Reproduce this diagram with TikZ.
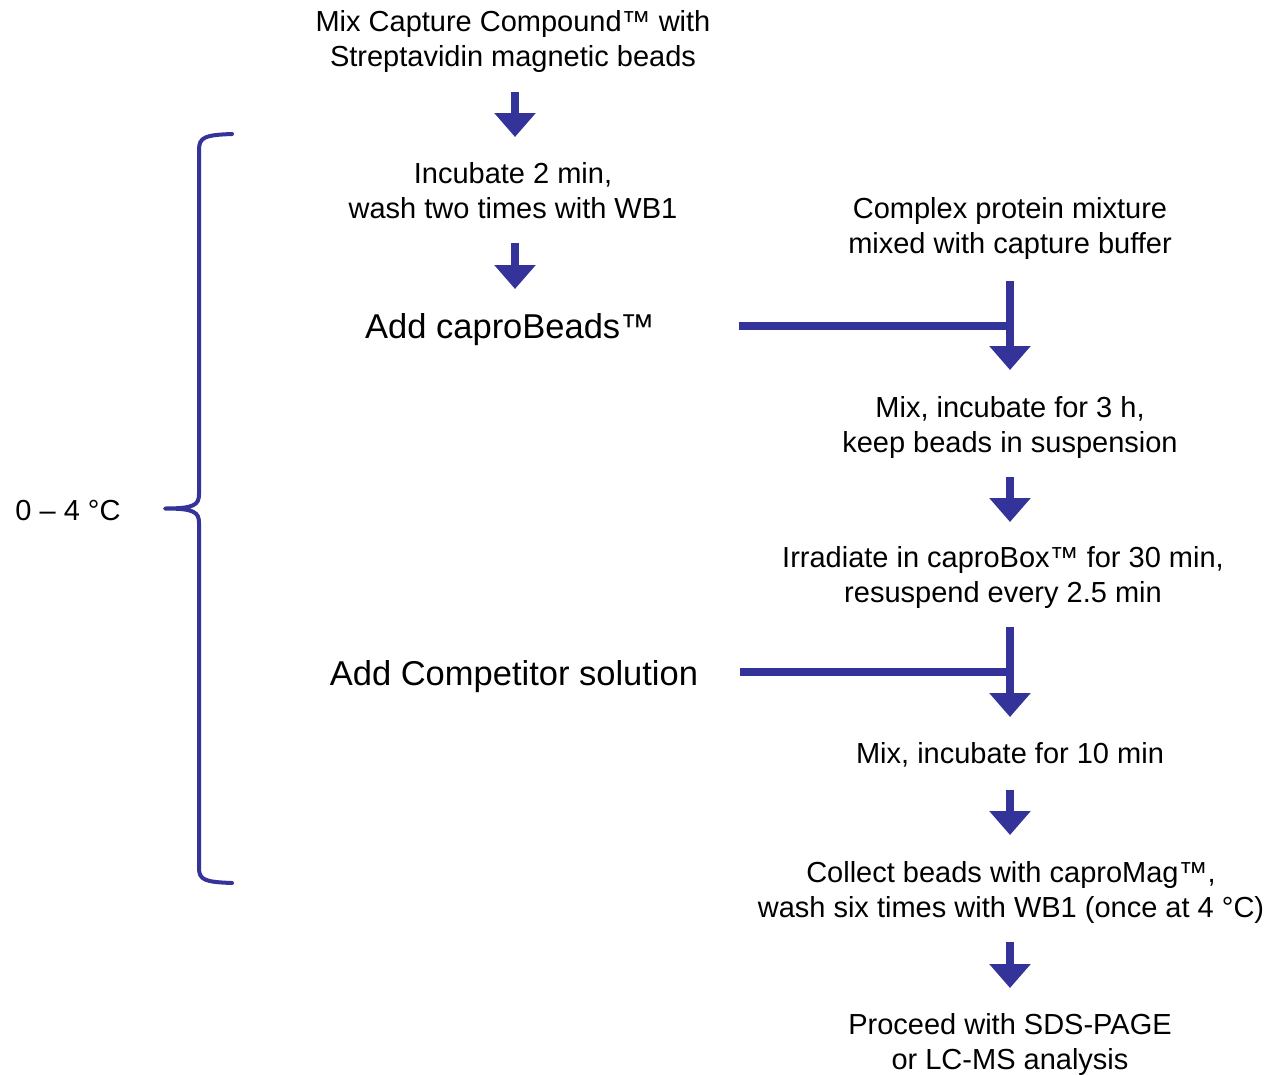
\documentclass[tikz,border=0pt]{standalone}
\usepackage{fontspec}
\setmainfont{Liberation Sans}
\usetikzlibrary{arrows.meta}
\definecolor{navy}{HTML}{333399}
\tikzset{
  txt/.style={align=center, inner sep=0pt, font=\fontsize{29}{35}\selectfont},
  bigtxt/.style={align=center, inner sep=0pt, font=\fontsize{34.5}{40}\selectfont},
  arr/.style={draw=navy, line width=7.5pt, -{Triangle[width=40pt,length=24pt]}, fill=navy},
  joinline/.style={draw=navy, line width=7.5pt},
  brace/.style={draw=navy, line width=4pt, line cap=round, line join=round}
}
\begin{document}
\begin{tikzpicture}[x=1pt,y=-1pt]
\useasboundingbox (0,0) rectangle (1269,1074);
% text nodes
\node[txt] (t1) at (513,41.5) {Mix Capture Compound™ with\\Streptavidin magnetic beads};
\node[txt] (t2) at (513,190.5) {Incubate 2 min,\\wash two times with WB1};
\node[bigtxt] (t3) at (510,329.5) {Add caproBeads™};
\node[txt] (t4) at (1010,228.5) {Complex protein mixture\\mixed with capture buffer};
\node[txt] (t5) at (1010,427.5) {Mix, incubate for 3 h,\\keep beads in suspension};
\node[txt] (t6) at (1003,577.5) {Irradiate in caproBox™ for 30 min,\\resuspend every 2.5 min};
\node[bigtxt] (t7) at (514,676.5) {Add Competitor solution};
\node[txt] (t8) at (1010,755) {Mix, incubate for 10 min};
\node[txt] (t9) at (1011,892.5) {Collect beads with caproMag™,\\wash six times with WB1 (once at 4 °C)};
\node[txt] (t10) at (1010,1044.5) {Proceed with SDS-PAGE\\or LC-MS analysis};
\node[txt] (temp) at (68,511) {0 – 4 °C};
% arrow end points
\coordinate (a1s) at (515,92);  \coordinate (a1e) at (515,137);
\coordinate (a2s) at (515,243); \coordinate (a2e) at (515,289);
\coordinate (a3s) at (1010,477); \coordinate (a3e) at (1010,522);
\coordinate (a4s) at (1010,790); \coordinate (a4e) at (1010,835);
\coordinate (a5s) at (1010,942); \coordinate (a5e) at (1010,988);
\coordinate (j1s) at (1010,281); \coordinate (j1e) at (1010,370);
\coordinate (j1h) at (739,326);  \coordinate (j1m) at (1010,326);
\coordinate (j2s) at (1010,627); \coordinate (j2e) at (1010,717);
\coordinate (j2h) at (740,672);  \coordinate (j2m) at (1010,672);
\draw[arr] (a1s) -- (a1e);
\draw[arr] (a2s) -- (a2e);
\draw[arr] (a3s) -- (a3e);
\draw[arr] (a4s) -- (a4e);
\draw[arr] (a5s) -- (a5e);
\draw[joinline] (j1h) -- (j1m);
\draw[arr] (j1s) -- (j1e);
\draw[joinline] (j2h) -- (j2m);
\draw[arr] (j2s) -- (j2e);
% brace
\draw[brace] (232,134) .. controls (205,135) and (199,137) .. (199,150)
  -- (199,494) .. controls (199,505) and (194,508.5) .. (165,508.5)
  .. controls (194,508.5) and (199,512) .. (199,523)
  -- (199,868) .. controls (199,880) and (205,882) .. (232,883);
\end{tikzpicture}
\end{document}
